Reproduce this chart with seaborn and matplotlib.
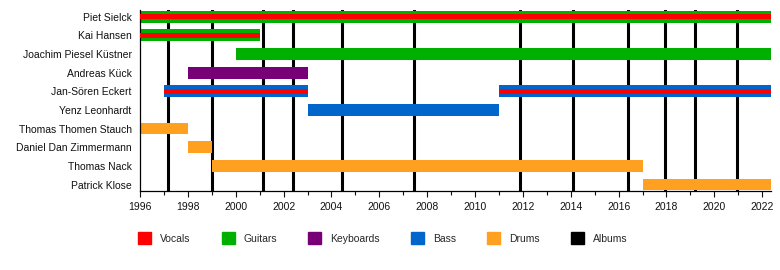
import matplotlib
matplotlib.use("Agg")
import matplotlib.pyplot as plt
import matplotlib.patches as mpatches
import seaborn as sns
import pandas as pd

END = 2022.37

members = ["Piet Sielck", "Kai Hansen", "Joachim Piesel Küstner", "Andreas Kück",
           "Jan-Sören Eckert", "Yenz Leonhardt", "Thomas Thomen Stauch",
           "Daniel Dan Zimmermann", "Thomas Nack", "Patrick Klose"]

span_member = ["Piet Sielck", "Kai Hansen", "Joachim Piesel Küstner", "Andreas Kück",
               "Jan-Sören Eckert", "Jan-Sören Eckert", "Yenz Leonhardt",
               "Thomas Thomen Stauch", "Daniel Dan Zimmermann", "Thomas Nack",
               "Patrick Klose"]
span_role = ["Guitars", "Guitars", "Guitars", "Keyboards", "Bass", "Bass", "Bass",
             "Drums", "Drums", "Drums", "Drums"]
span_start = [1996, 1996, 2000, 1998, 1997, 2011, 2003, 1996, 1998, 1999, 2017]
span_end = [END, 2001, END, 2003, 2003, END, 2011, 1998, 1999, 2017, END]

vocal_member = ["Piet Sielck", "Kai Hansen", "Jan-Sören Eckert", "Jan-Sören Eckert"]
vocal_start = [1996, 1996, 1997, 2011]
vocal_end = [END, 2001, 2003, END]

albums = [1997.17, 1999.0, 2001.14, 2002.4, 2004.45, 2007.43, 2011.9,
          2014.1, 2016.4, 2017.96, 2019.2, 2020.95]

roles = ["Vocals", "Guitars", "Keyboards", "Bass", "Drums", "Albums"]
role_colors = ["#FF0000", "#00B000", "#770077", "#0066CC", "#FFA020", "#000000"]
cmap = dict(zip(roles, role_colors))

spans = pd.DataFrame({"member": span_member, "role": span_role,
                      "start": span_start, "end": span_end})
vocals = pd.DataFrame({"member": vocal_member, "start": vocal_start, "end": vocal_end})
row = {m: i for i, m in enumerate(members)}

sns.set_theme(style="ticks")
plt.rcParams["font.family"] = ["Liberation Sans", "DejaVu Sans"]

fig = plt.figure(figsize=(7.8, 2.7), dpi=100)
ax = fig.add_axes([140 / 780, 1 - 191 / 270, (771 - 140) / 780, 181 / 270])

for a in albums:
    ax.axvline(a, color="black", lw=2.2, zorder=1)

ax.barh([row[m] for m in spans["member"]], spans["end"] - spans["start"],
        left=spans["start"], height=0.63,
        color=[cmap[r] for r in spans["role"]], edgecolor="none", zorder=2)
ax.barh([row[m] for m in vocals["member"]], vocals["end"] - vocals["start"],
        left=vocals["start"], height=0.25,
        color=cmap["Vocals"], edgecolor="none", zorder=3)

ax.set_xlim(1996, END)
ax.set_ylim(9.346, -0.36)
ax.set_yticks(range(len(members)))
ax.set_yticklabels(members, fontsize=7.5, color="#111111")
ax.tick_params(axis="y", length=0, pad=6)
ax.set_xticks(range(1996, 2023, 2))
ax.set_xticks(range(1996, 2023, 1), minor=True)
ax.tick_params(axis="x", which="major", length=4, width=0.8, labelsize=7.5,
               colors="#111111", pad=4, direction="out")
ax.tick_params(axis="x", which="minor", length=3, width=0.8, direction="out",
               colors="#111111")
for s in ["top", "right"]:
    ax.spines[s].set_visible(False)
for s in ["left", "bottom"]:
    ax.spines[s].set_color("black")
    ax.spines[s].set_linewidth(0.9)
ax.grid(False)

handles = [mpatches.Patch(color=cmap[r], label=r) for r in roles]
fig.legend(handles=handles, loc="center left", ncol=6, frameon=False,
           bbox_to_anchor=(138 / 780, 1 - 238 / 270), fontsize=7.5,
           handlelength=1.25, handleheight=1.25, handletextpad=0.85,
           columnspacing=3.0, borderpad=0, borderaxespad=0)

fig.savefig("out.png", dpi=100)
